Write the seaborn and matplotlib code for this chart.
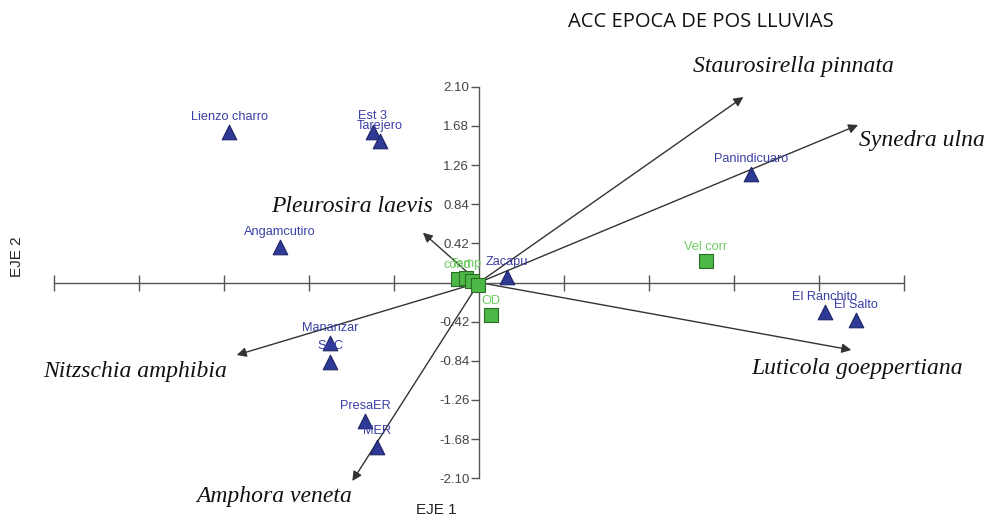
import matplotlib
matplotlib.use("Agg")
import matplotlib.pyplot as plt
import seaborn as sns
import pandas as pd
import numpy as np

# ---- data ----
sites = ["Lienzo charro", "Est 3", "Tarejero", "Panindicuaro", "Angamcutiro", "Zacapu",
         "El Ranchito", "El Salto", "Mananzar", "SAC", "PresaER", "MER"]
site_x = [-2.94, -1.25, -1.17, 3.20, -2.34, 0.33, 4.07, 4.43, -1.75, -1.75, -1.34, -1.20]
site_y = [1.61, 1.62, 1.52, 1.16, 0.38, 0.056, -0.32, -0.40, -0.65, -0.85, -1.49, -1.76]

env_vars = ["cond", "Temp", "pH", "Turb", "OD", "Vel corr"]
env_x = [-0.25, -0.15, -0.08, -0.01, 0.14, 2.67]
env_y = [0.038, 0.048, 0.016, -0.027, -0.35, 0.234]
env_shown = ["cond", "Temp", "", "", "OD", "Vel corr"]

species = ["Staurosirella pinnata", "Synedra ulna", "Pleurosira laevis",
           "Nitzschia amphibia", "Amphora veneta", "Luticola goeppertiana"]
species_x = [3.11, 4.46, -0.66, -2.85, -1.49, 4.38]
species_y = [1.99, 1.69, 0.534, -0.778, -2.13, -0.724]

y_ticks = [-2.10, -1.68, -1.26, -0.84, -0.42, 0.42, 0.84, 1.26, 1.68, 2.10]
x_ticks = [-5, -4, -3, -2, -1, 1, 2, 3, 4, 5]

title = "ACC EPOCA DE POS LLUVIAS"

# ---- layout (label offsets in points) ----
species_offsets = [(36, 22), (46, -11), (-51, 19), (-73, -12), (-56, -11.5), (4, -13)]

sns.set_style("white")
plt.rcParams['font.family'] = ['Liberation Sans', 'DejaVu Sans']

fig = plt.figure(figsize=(9.87, 5.19), dpi=100)
ax = fig.add_axes([0, 0, 1, 1])
ax.set_xlim(-479 / 85, (987 - 479) / 85)
ax.set_ylim((282.5 - 519) / 93.2, 282.5 / 93.2)

for s in ["top", "right"]:
    ax.spines[s].set_visible(False)
for s in ["left", "bottom"]:
    ax.spines[s].set_position("zero")
    ax.spines[s].set_color("#555555")
    ax.spines[s].set_linewidth(1.0)
ax.spines["left"].set_bounds(-2.10, 2.10)
ax.spines["bottom"].set_bounds(-5, 5)

ax.set_xticks(x_ticks)
ax.set_xticklabels([])
ax.tick_params(axis="x", bottom=True, direction="inout", length=11.5, width=1.0,
               color="#555555")
ax.set_yticks(y_ticks)
ax.set_yticklabels([f"{v:.2f}" for v in y_ticks], fontsize=9.5, color="#444444")
ax.tick_params(axis="y", left=True, direction="out", length=6, width=1.0,
               color="#555555", pad=1)

# arrows
arrow_color = "#333333"
for name, x, y, off in zip(species, species_x, species_y, species_offsets):
    ax.annotate("", xy=(x, y), xytext=(0, 0),
                arrowprops=dict(arrowstyle="-|>", color=arrow_color, lw=1.0,
                                mutation_scale=14, shrinkA=0, shrinkB=0), zorder=2)
    ax.annotate(name, xy=(x, y), xytext=off, textcoords="offset points",
                ha="center", va="center", fontsize=17, style="italic",
                family=["Liberation Serif", "DejaVu Serif"], color="#111111")

# sites (triangles)
df_sites = pd.DataFrame({"x": site_x, "y": site_y, "name": sites})
sns.scatterplot(data=df_sites, x="x", y="y", marker="^", s=110, color="#2E3A96",
                edgecolor="#1C2466", linewidth=0.8, ax=ax, zorder=4, legend=False)
for n, x, y in zip(sites, site_x, site_y):
    ax.annotate(n, xy=(x, y), xytext=(0, 11), textcoords="offset points",
                ha="center", va="center", fontsize=9.2, color="#3A3FA5", zorder=5)

# environmental variables (squares)
df_env = pd.DataFrame({"x": env_x, "y": env_y, "name": env_vars})
sns.scatterplot(data=df_env, x="x", y="y", marker="s", s=105, color="#4DB848",
                edgecolor="#2A6E27", linewidth=0.8, ax=ax, zorder=3, legend=False)
for n, x, y in zip(env_shown, env_x, env_y):
    if n:
        ax.annotate(n, xy=(x, y), xytext=(0, 10), textcoords="offset points",
                    ha="center", va="center", fontsize=9.2, color="#6CCB5F", zorder=5)

ax.set_xlabel("")
ax.set_ylabel("")

fig.text(701 / 987, 1 - 22 / 519, title, ha="center", va="center", fontsize=14.5,
         family=["Open Sans", "DejaVu Sans"], color="#111111")
fig.text(17 / 987, 1 - 257 / 519, "EJE 2", rotation=90, ha="center", va="center",
         fontsize=11, color="#222222")
fig.text(436 / 987, 1 - 510 / 519, "EJE 1", ha="center", va="center",
         fontsize=11, color="#222222")

fig.savefig("out.png", dpi=100)
